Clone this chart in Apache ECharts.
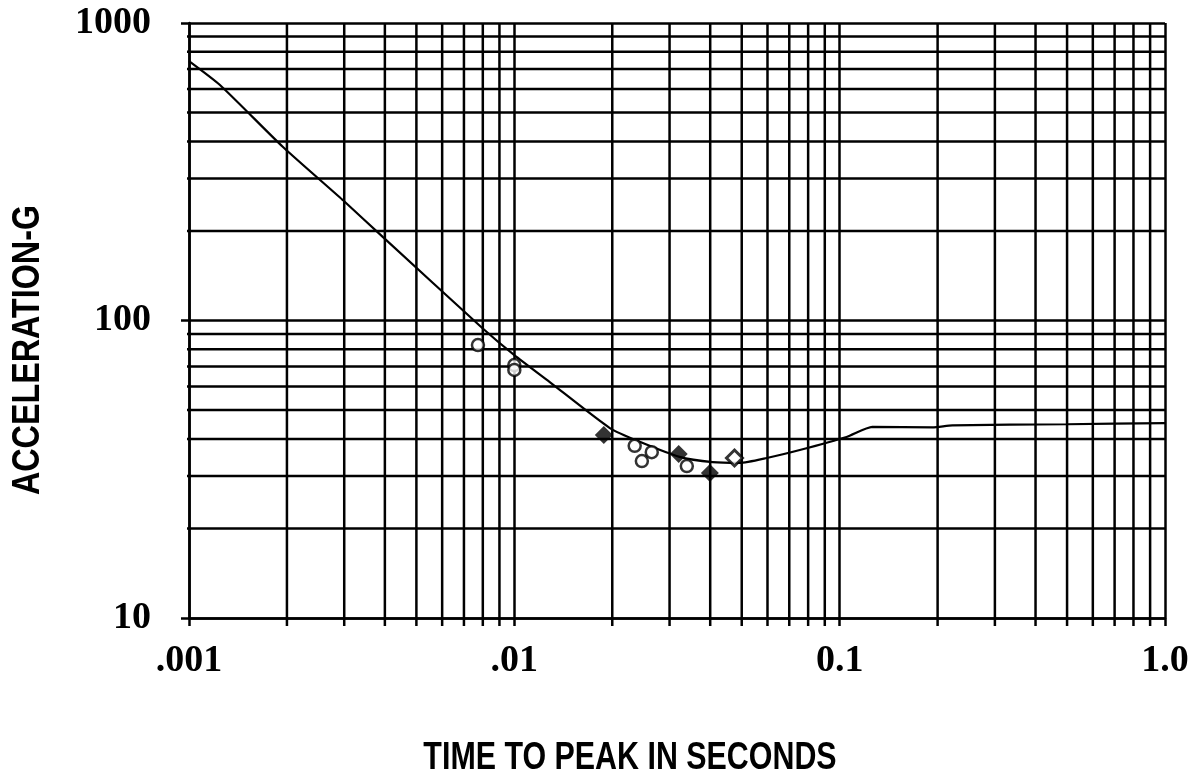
<!DOCTYPE html>
<html>
<head>
<meta charset="utf-8">
<script src="https://cdn.jsdelivr.net/npm/echarts@6/dist/echarts.min.js"></script>
<style>
html,body{margin:0;padding:0;background:#fff;}
#chart{width:1198px;height:779px;}
</style>
</head>
<body>
<div id="chart"></div>
<script>
// ---- data ----
var xTickValues = [0.001, 0.01, 0.1, 1];
var xTickLabels = ['.001', '.01', '0.1', '1.0'];
var yTickValues = [10, 100, 1000];
var yTickLabels = ['10', '100', '1000'];

// minor grid lines (log paper 2..9 subdivisions)
var xMinorGrid = [0.002,0.003,0.004,0.005,0.006,0.007,0.008,0.009,
                  0.02,0.03,0.04,0.05,0.06,0.07,0.08,0.09,
                  0.2,0.3,0.4,0.5,0.6,0.7,0.8,0.9];
var yMinorGrid = [20,30,40,50,60,70,80,90,
                  200,300,400,500,600,700,800,900];

// fitted curve
var curveX = [0.001, 0.001245, 0.001945, 0.00297, 0.00394, 0.0080, 0.0100, 0.01285, 0.01966, 0.0243, 0.0322, 0.0407, 0.0493, 0.0597, 0.0754, 0.105, 0.126, 0.193, 0.222, 0.5, 1.0];
var curveY = [745, 619, 383, 254, 191, 94, 76.5, 62.1, 43.5, 39.1, 34.8, 33.4, 33.2, 34.5, 36.7, 40.6, 43.9, 43.7, 44.4, 44.8, 45.2];

// open circles
var circleX = [0.00773, 0.0100, 0.0100, 0.02344, 0.02645, 0.02466, 0.0339];
var circleY = [82.7, 70.8, 68.2, 37.9, 36.1, 33.7, 32.4];

// filled diamonds
var diamondX = [0.01884, 0.0320, 0.0399];
var diamondY = [41.2, 35.6, 30.7];

// open diamond
var openDiamondX = [0.0475];
var openDiamondY = [34.5];

// ---- helpers ----
var X_MIN = 0.001, X_MAX = 1, Y_MIN = 10, Y_MAX = 1000;
// grid lines run a little past the axes, like tick marks on log paper
var X_TICK_END = 0.000945, Y_TICK_END = 9.4;

function pairs(xs, ys){ return xs.map(function(x,i){ return [x, ys[i]]; }); }
function labelFor(values, labels){
  return function(v){
    for (var i=0;i<values.length;i++){
      if (Math.abs(Math.log10(v) - Math.log10(values[i])) < 1e-6) return labels[i];
    }
    return '';
  };
}
var gridStyle = {color:'#000', width:2.5};
var gridSeries = [];
xMinorGrid.forEach(function(v){
  gridSeries.push({type:'line', data:[[v, Y_TICK_END],[v, Y_MAX]], symbol:'none', clip:false,
    silent:true, lineStyle:gridStyle, z:2});
});
yMinorGrid.forEach(function(v){
  gridSeries.push({type:'line', data:[[X_TICK_END, v],[X_MAX, v]], symbol:'none', clip:false,
    silent:true, lineStyle:gridStyle, z:2});
});

var chart = echarts.init(document.getElementById('chart'));
var labelFont = {color:'#000', fontFamily:"'Liberation Serif', serif", fontWeight:'bold', fontSize:38};
var titleFont = "bold 38px 'Liberation Sans', 'Arial', sans-serif";
chart.setOption({
  animation:false,
  backgroundColor:'#fff',
  grid:{left:189, right:33, top:23, bottom:161},
  xAxis:{
    type:'log', logBase:10, min:X_MIN, max:X_MAX,
    axisLine:{show:true, lineStyle:{color:'#000', width:2.5}},
    axisTick:{show:true, length:8, lineStyle:{color:'#000', width:2.5}},
    splitLine:{show:true, lineStyle:gridStyle},
    axisLabel:Object.assign({margin:24, formatter:labelFor(xTickValues, xTickLabels)}, labelFont)
  },
  yAxis:{
    type:'log', logBase:10, min:Y_MIN, max:Y_MAX,
    axisLine:{show:true, lineStyle:{color:'#000', width:2.5}},
    axisTick:{show:true, length:8, lineStyle:{color:'#000', width:2.5}},
    splitLine:{show:true, lineStyle:gridStyle},
    axisLabel:Object.assign({margin:38, formatter:labelFor(yTickValues, yTickLabels)}, labelFont)
  },
  graphic:[
    {type:'text', x:630, y:759, scaleX:0.8, style:{text:'TIME TO PEAK IN SECONDS', x:0, y:0, align:'center', verticalAlign:'middle',
      fill:'#000', font:titleFont}},
    {type:'text', x:29, y:350, rotation:Math.PI/2, scaleX:0.85, style:{text:'ACCELERATION-G', x:0, y:0, align:'center', verticalAlign:'middle',
      fill:'#000', font:titleFont}}
  ],
  series:gridSeries.concat([
    {
      type:'line', data:pairs(curveX, curveY), showSymbol:false, smooth:0.2,
      lineStyle:{color:'#000', width:2.2}, z:5, silent:true
    },
    {
      type:'scatter', data:pairs(circleX, circleY), symbol:'circle', symbolSize:12,
      itemStyle:{color:'#fff', borderColor:'#000', borderWidth:2.5}, z:6
    },
    {
      type:'scatter', data:pairs(diamondX, diamondY), symbol:'diamond', symbolSize:18,
      itemStyle:{color:'#000'}, z:7
    },
    {
      type:'scatter', data:pairs(openDiamondX, openDiamondY), symbol:'diamond', symbolSize:16,
      itemStyle:{color:'#fff', borderColor:'#000', borderWidth:3}, z:7
    }
  ])
});
</script>
</body>
</html>
